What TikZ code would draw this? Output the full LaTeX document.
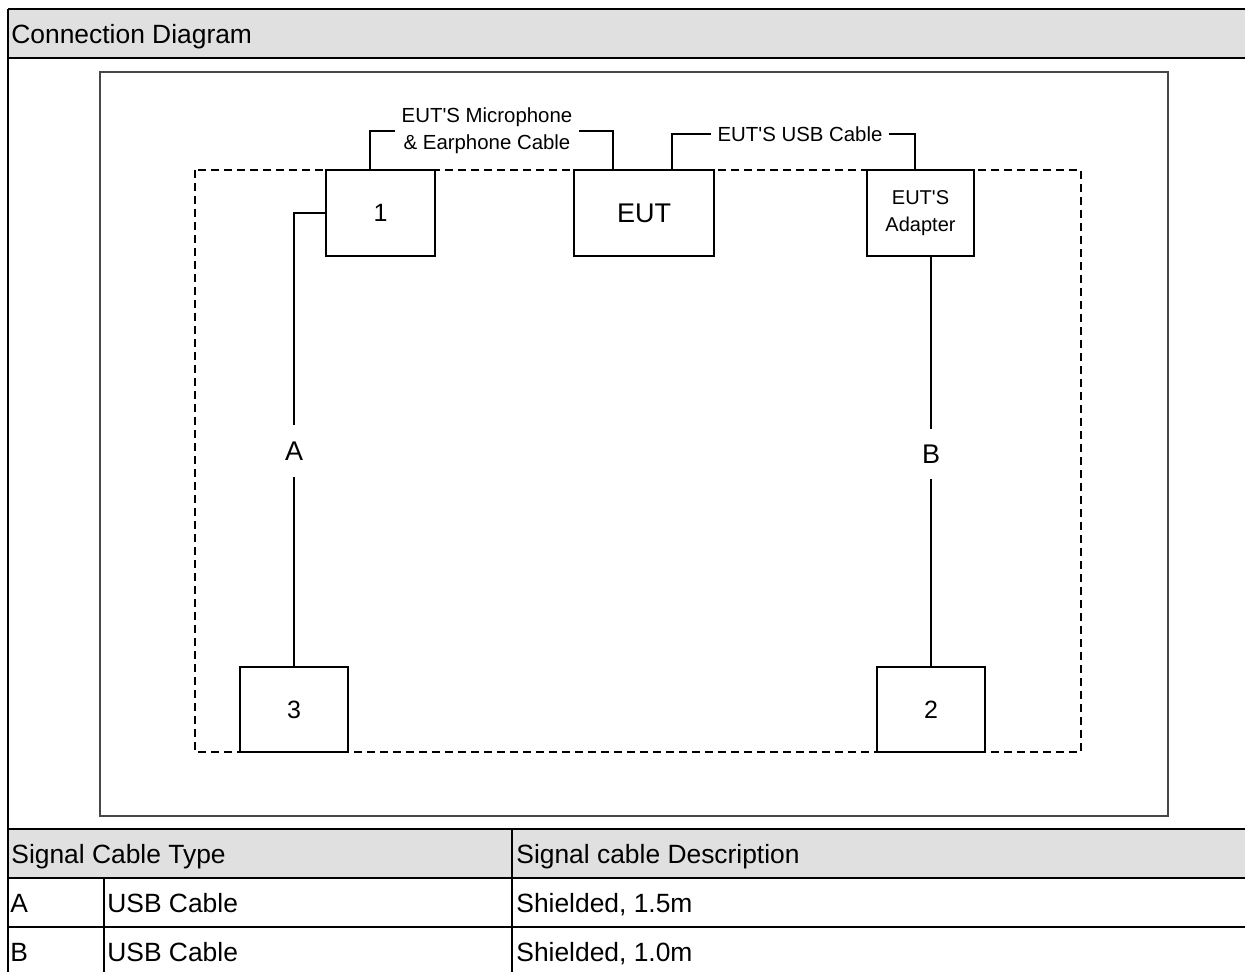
\documentclass[tikz,border=0pt]{standalone}
\usepackage{fontspec}
\setmainfont{Liberation Sans}[Ligatures=TeXOff]
\definecolor{hdrgray}{HTML}{E0E0E0}
\definecolor{framegray}{HTML}{474747}

\begin{document}
\begin{tikzpicture}[x=0.5pt,y=-0.5pt,
  unitbox/.style={draw, line width=1pt, fill=white, inner sep=0pt, font=\fontsize{12.5}{14}\selectfont},
  cable/.style={line width=1pt},
  cablelbl/.style={inner sep=0pt, minimum height=25pt, font=\fontsize{13.5}{15}\selectfont},
  brlbl/.style={align=center, inner sep=3.3pt, font=\fontsize{10.2}{13.5}\selectfont},
  tabtxt/.style={anchor=base west, inner sep=0pt, font=\fontsize{13.2}{15}\selectfont},
  tabline/.style={line width=1pt}]
\useasboundingbox (0,0) rectangle (1245,972);
\clip (0,0) rectangle (1245,972);

% 表格底色与线
\fill[hdrgray] (8,9) rectangle (1245,58);
\fill[hdrgray] (8,829) rectangle (1245,878);
\foreach \y in {9,58,829,878,927}
  \draw[tabline] (8,\y) -- (1245,\y);
\draw[tabline] (8,9) -- (8,980);
\draw[tabline] (104,878) -- (104,980);
\draw[tabline] (512,829) -- (512,980);

% 表格文字
\node[tabtxt] (title) at (11,44) {Connection Diagram};
\node[tabtxt] (hdrtype) at (11,863) {Signal Cable Type};
\node[tabtxt] (hdrdesc) at (516,863) {Signal cable Description};
\node[tabtxt] (rowaid) at (10,912) {A};
\node[tabtxt] (rowatype) at (107,912) {USB Cable};
\node[tabtxt] (rowadesc) at (516,912) {Shielded, 1.5m};
\node[tabtxt] (rowbid) at (10,961) {B};
\node[tabtxt] (rowbtype) at (107,961) {USB Cable};
\node[tabtxt] (rowbdesc) at (516,961) {Shielded, 1.0m};

% 外框与虚线框
\draw[framegray, line width=1.25pt] (100,72) rectangle (1168,816);
\draw[line width=1pt, dash pattern=on 4pt off 2.5pt] (195,170) rectangle (1081,752);

% 设备
\node[unitbox, minimum width=54.5pt, minimum height=43pt] (one) at (380.5,213) {1};
\node[unitbox, minimum width=70pt, minimum height=43pt, font=\fontsize{13.5}{15}\selectfont] (eut) at (644,213) {EUT};
\node[unitbox, minimum width=53.5pt, minimum height=43pt, align=center, font=\fontsize{10}{13.5}\selectfont] (adapter) at (920.5,213) {EUT'S\\Adapter};
\node[unitbox, minimum width=54pt, minimum height=42.5pt] (three) at (294,709.5) {3};
\node[unitbox, minimum width=54pt, minimum height=42.5pt] (two) at (931,709.5) {2};

% 线缆标注
\node[brlbl] (miclbl) at (487,131) {EUT'S Microphone\\\& Earphone Cable};
\node[brlbl] (usblbl) at (800,134) {EUT'S USB Cable};
\coordinate (micL) at (370,170);
\coordinate (micR) at (613,170);
\coordinate (usbL) at (672,170);
\coordinate (usbR) at (915,170);
\draw[cable] (micL) |- (miclbl.west);
\draw[cable] (miclbl.east) -| (micR);
\draw[cable] (usbL) |- (usblbl.west);
\draw[cable] (usblbl.east) -| (usbR);

% 线缆 A, B
\node[cablelbl, minimum height=25.5pt] (alabel) at (294,451) {A};
\node[cablelbl] (blabel) at (931,454) {B};
\draw[cable] (one.west) -| (alabel.north);
\draw[cable] (alabel.south) -- (three.north);
\draw[cable] (adapter.south -| blabel.north) -- (blabel.north);
\draw[cable] (blabel.south) -- (two.north);
\end{tikzpicture}
\end{document}
